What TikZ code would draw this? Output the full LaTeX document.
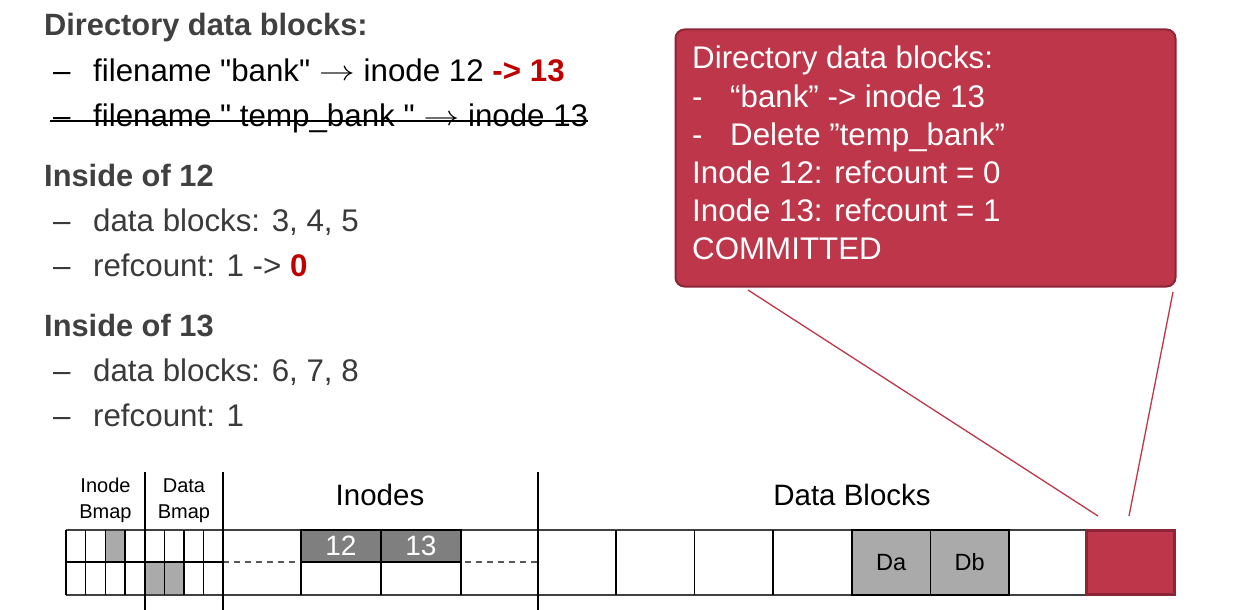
\documentclass[tikz,border=0pt]{standalone}
\usepackage{fontspec}
\usepackage{graphicx}
\setmainfont{Liberation Sans}
\definecolor{headgray}{HTML}{404040}
\definecolor{itemgray}{HTML}{3A3A3A}
\definecolor{hired}{HTML}{C00000}
\definecolor{crimson}{HTML}{BD3649}
\definecolor{crimsondark}{HTML}{8C2535}
\definecolor{cellgray}{HTML}{AAAAAA}
\definecolor{inodegray}{HTML}{7F7F7F}
\tikzset{
  bigtxt/.style={inner sep=0pt, anchor=base west, font=\fontsize{31.3}{38}\selectfont},
  headtxt/.style={bigtxt, text=headgray, font=\fontsize{30.8}{38}\selectfont\bfseries},
  calltxt/.style={bigtxt, text=white},
  grid/.style={line width=1.7pt, draw=black},
  thick sep/.style={line width=2.6pt, draw=black},
  hline/.style={line width=1.5pt, draw=black!75},
  inodebox/.style={draw=black, line width=2.6pt, fill=inodegray, text=white, inner sep=0pt,
    font=\fontsize{28}{30}\selectfont},
  dbcell/.style={draw=black, line width=1.7pt, fill=cellgray, inner sep=0pt,
    font=\fontsize{23.5}{26}\selectfont},
  smalllbl/.style={inner sep=0pt, anchor=base, align=center, font=\fontsize{20}{26}\selectfont},
  seclbl/.style={inner sep=0pt, anchor=base, font=\fontsize{29.5}{34}\selectfont},
  pointer/.style={draw=crimson, line width=1.3pt},
}
\newcommand{\dashitem}{\makebox[40pt][l]{–}}
\newcommand{\calldash}{\makebox[38pt][l]{-}}
\newcommand{\qd}{\textquotedbl}
\newcommand{\rarr}{\raisebox{1pt}{\fontsize{10}{12}\selectfont\scalebox{3.6}[2.8]{$\rightarrow$}}}
\begin{document}
\begin{tikzpicture}[x=1pt, y=-1pt]
\useasboundingbox (0,0) rectangle (1248,610);
\fill[white] (0,0) rectangle (1248,610);

% ---------- left text ----------
\node[headtxt] (h1) at (44,36) {Directory data blocks:};
\node[bigtxt] (l2) at (53,81.7) {\dashitem filename \qd bank\qd{} \rarr{} inode 12 \textcolor{hired}{\bfseries -> 13}};
\node[bigtxt] (l3) at (53,126.7) {\dashitem filename \qd{} temp\_bank \qd{} \rarr{} inode 13};
\draw[line width=1.8pt] ([shift={(-3,-5.5)}]l3.base west) -- ([shift={(0,-5.5)}]l3.base east);

\node[headtxt] (h2) at (44,186.5) {Inside of 12};
\node[bigtxt, text=itemgray] (l5) at (53,231.7) {\dashitem data blocks: 3, 4, 5};
\node[bigtxt, text=itemgray] (l6) at (53,276.7) {\dashitem refcount: 1 -> \textcolor{hired}{\bfseries 0}};

\node[headtxt] (h3) at (44,336) {Inside of 13};
\node[bigtxt, text=itemgray] (l8) at (53,381.7) {\dashitem data blocks: 6, 7, 8};
\node[bigtxt, text=itemgray] (l9) at (53,426.7) {\dashitem refcount: 1};

% ---------- callout ----------
\node[draw=crimsondark, line width=2pt, fill=crimson, rounded corners=9pt,
      minimum width=500pt, minimum height=257pt, inner sep=0pt] (callout) at (925.5,158) {};
\node[calltxt] (c1) at (692,69) {Directory data blocks:};
\node[calltxt] (c2) at (692,107) {\calldash “bank” -> inode 13};
\node[calltxt] (c3) at (692,145) {\calldash Delete ”temp\_bank”};
\node[calltxt] (c4) at (692,183) {Inode 12: refcount = 0};
\node[calltxt] (c5) at (692,221) {Inode 13: refcount = 1};
\node[calltxt] (c6) at (692,259) {COMMITTED};

% ---------- disk layout ----------
\fill[cellgray] (105.5,530) rectangle (125,562);
\fill[cellgray] (145,562) rectangle (184,595);

\draw[hline] (66,530) -- (1085,530);
\draw[hline] (66,595) -- (1085,595);
\draw[grid] (66,562) -- (223,562);
\draw[line width=1.2pt, draw=black!65, dash pattern=on 6pt off 5pt] (223,562) -- (538,562);

\foreach \xx in {66,85.5,105.5,125,164.5,184,203.5}
  \draw[grid] (\xx,530) -- (\xx,595);

\foreach \xx in {145,223,538}
  \draw[thick sep] (\xx,472) -- (\xx,610);

\node[smalllbl] (ibm) at (105.5,518) {Inode\\Bmap};
\node[smalllbl] (dbm) at (184,518) {Data\\Bmap};
\node[seclbl] (inl) at (380,505) {Inodes};
\node[seclbl] (dbl) at (852,505) {Data Blocks};

\foreach \xx in {301,381,461}
  \draw[grid] (\xx,562) -- (\xx,595);

\node[inodebox, minimum width=80pt, minimum height=32pt] (i12) at (341,546) {12};
\node[inodebox, minimum width=80pt, minimum height=32pt] (i13) at (421,546) {13};

\foreach \xx in {616,694.5,773,1009}
  \draw[grid] (\xx,530) -- (\xx,595);
\node[dbcell, minimum width=78.5pt, minimum height=65pt] (da) at (891.25,562.5) {Da};
\node[dbcell, minimum width=78.5pt, minimum height=65pt] (db) at (969.75,562.5) {Db};

\node[draw=crimsondark, line width=3pt, fill=crimson, minimum width=88pt, minimum height=64pt,
      inner sep=0pt] (red) at (1130.5,562.5) {};

\coordinate (pa) at (748,290);
\coordinate (pb) at (1173,292);
\coordinate (qa) at (1098,516);
\coordinate (qb) at (1129,516);
\draw[pointer] (pa) -- (qa);
\draw[pointer] (pb) -- (qb);
\end{tikzpicture}
\end{document}
